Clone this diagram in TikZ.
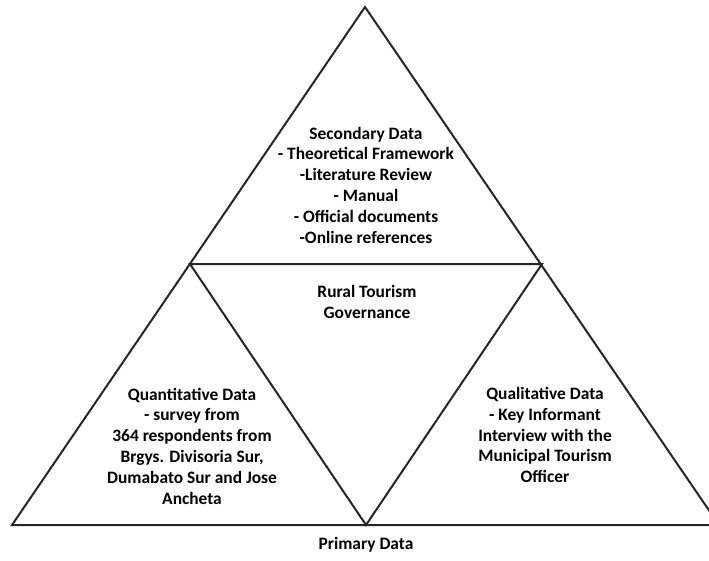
\documentclass[tikz,border=0pt]{standalone}
\usepackage{fontspec}
\setmainfont{Carlito}
\begin{document}
\begin{tikzpicture}[x=1pt,y=-1pt,
  edge/.style={draw=black!85,line width=2pt,line join=miter},
  lbl/.style={align=center,font=\fontsize{17.4}{20.8}\selectfont\bfseries,inner sep=0pt}]
\clip (0,0) rectangle (709,560);
\useasboundingbox (0,0) rectangle (709,560);
\coordinate (A) at (365,7);
\coordinate (L) at (190,264);
\coordinate (R) at (542,264);
\coordinate (BL) at (12,525);
\coordinate (BM) at (366,525);
\coordinate (BR) at (719,525);
\draw[edge] (A) -- (BL) -- (BR) -- cycle;
\draw[edge] (L) -- (R) -- (BM) -- cycle;
\node[lbl] (sec) at (366,185) {Secondary Data\\- Theoretical Framework\\-Literature Review\\- Manual\\- Official documents\\-Online references};
\node[lbl] (rur) at (367,302) {Rural Tourism\\Governance};
\node[lbl] (qua) at (192,446) {Quantitative Data\\- survey from\\364 respondents from\\Brgys. Divisoria Sur,\\Dumabato Sur and Jose\\Ancheta};
\node[lbl] (qul) at (545,435) {Qualitative Data\\- Key Informant\\Interview with the\\Municipal Tourism\\Officer};
\node[lbl] (pri) at (366,545) {Primary Data};
\end{tikzpicture}
\end{document}
